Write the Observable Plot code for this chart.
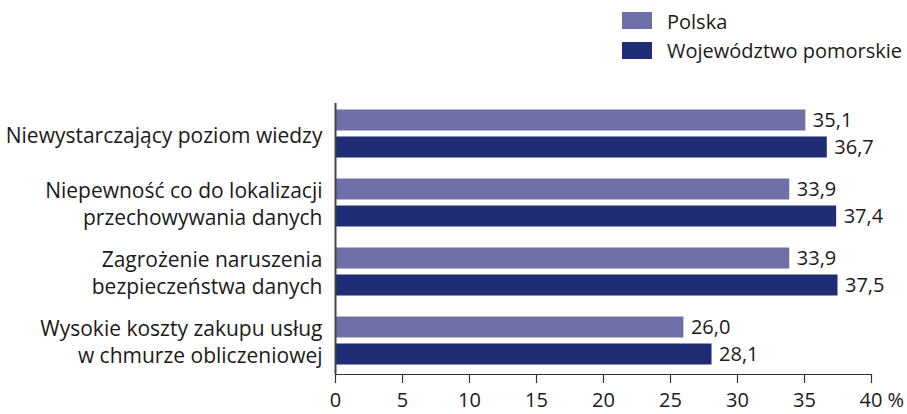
<!DOCTYPE html>
<html>
<head>
<meta charset="utf-8">
<script src="https://cdn.jsdelivr.net/npm/d3@7"></script>
<script src="https://cdn.jsdelivr.net/npm/@observablehq/plot@0.6"></script>
<style>
  html, body { margin: 0; padding: 0; background: #fff; }
  #wrap { width: 907px; font-family: "Open Sans", sans-serif; color: #1a1a1a; }
  #legend { position: relative; height: 80px; }
  .sw { position: absolute; left: 622px; width: 30px; height: 17px; }
  .lt { position: absolute; left: 667px; font-size: 20px; line-height: 24px; white-space: nowrap; }
</style>
</head>
<body>
<div id="wrap">
  <div id="legend"></div>
  <div id="chart"></div>
</div>
<script>
const categories = [
  "Niewystarczający poziom wiedzy",
  "Niepewność co do lokalizacji\nprzechowywania danych",
  "Zagrożenie naruszenia\nbezpieczeństwa danych",
  "Wysokie koszty zakupu usług\nw chmurze obliczeniowej"
];
const seriesNames = ["Polska", "Województwo pomorskie"];
const polska = [35.1, 33.9, 33.9, 26.0];
const pomorskie = [36.7, 37.4, 37.5, 28.1];
const xTicks = [0, 5, 10, 15, 20, 25, 30, 35, 40];
const colors = ["#7070a8", "#212c77"];

// legend
const legend = document.getElementById("legend");
seriesNames.forEach((name, i) => {
  const sw = document.createElement("div");
  sw.className = "sw";
  sw.style.top = (12 + i * 30) + "px";
  sw.style.background = colors[i];
  legend.appendChild(sw);
  const lt = document.createElement("div");
  lt.className = "lt";
  lt.style.top = (10 + i * 29) + "px";
  lt.textContent = name;
  legend.appendChild(lt);
});

const rowsP = categories.map((c, i) => ({cat: c, value: polska[i], series: seriesNames[0]}));
const rowsW = categories.map((c, i) => ({cat: c, value: pomorskie[i], series: seriesNames[1]}));
const fmt = v => v.toFixed(1).replace(".", ",");

const chart = Plot.plot({
  width: 907,
  height: 334,
  marginLeft: 335,
  marginRight: 36,
  marginTop: 23,
  marginBottom: 40,
  style: {fontFamily: "Open Sans, sans-serif", fontSize: "20px", color: "#1a1a1a", background: "#fff"},
  x: {domain: [0, 40], axis: null},
  y: {type: "band", domain: categories, range: [17.5, 296.5], padding: 0, axis: null},
  marks: [
    Plot.barX(rowsP, {y: "cat", x: "value", fill: colors[0], insetTop: 10.5, insetBottom: 37.5}),
    Plot.barX(rowsW, {y: "cat", x: "value", fill: colors[1], insetTop: 37.5, insetBottom: 10.5}),
    Plot.text(rowsP, {y: "cat", x: "value", text: d => fmt(d.value), textAnchor: "start", dx: 7, dy: -13.5, fill: "#1a1a1a"}),
    Plot.text(rowsW, {y: "cat", x: "value", text: d => fmt(d.value), textAnchor: "start", dx: 7, dy: 13.5, fill: "#1a1a1a"}),
    Plot.text(categories, {y: d => d, text: d => d, frameAnchor: "left", textAnchor: "end", lineAnchor: "middle", dx: -13, fontSize: 21, lineHeight: 1.29, fill: "#1a1a1a"}),
    Plot.ruleX([0], {stroke: "#444", strokeWidth: 2}),
    Plot.frame({anchor: "bottom", stroke: "#333", strokeWidth: 1.2}),
    Plot.axisX({ticks: xTicks, tickSize: 9, tickFormat: () => "", label: null, stroke: "#333", strokeWidth: 1.2}),
    Plot.text(xTicks.filter(t => t !== 40), {x: d => d, text: d => String(d), frameAnchor: "bottom", lineAnchor: "middle", dy: 26, fill: "#1a1a1a"}),
    Plot.text([40], {x: d => d, text: () => "40 %", frameAnchor: "bottom", lineAnchor: "middle", textAnchor: "start", dy: 26, dx: -12, fill: "#1a1a1a"})
  ]
});
document.getElementById("chart").appendChild(chart);
</script>
</body>
</html>
